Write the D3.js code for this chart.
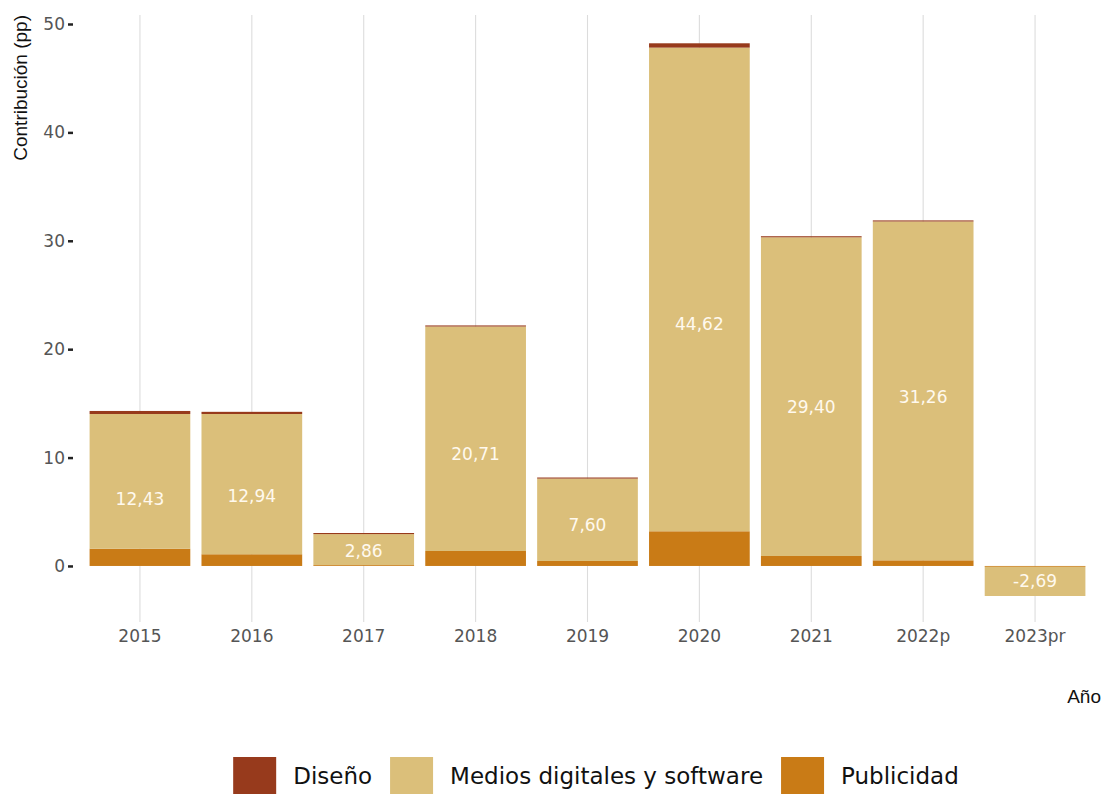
<!DOCTYPE html>
<html>
<head>
<meta charset="utf-8">
<script src="https://cdn.jsdelivr.net/npm/d3@7"></script>
<style>
  body { margin: 0; background: #fff; }
  svg { display: block; }
</style>
</head>
<body>
<svg id="chart"></svg>
<script>
// data
var years = ["2015", "2016", "2017", "2018", "2019", "2020", "2021", "2022p", "2023pr"];
var publicidad = [1.59, 1.08, 0.08, 1.38, 0.46, 3.2, 0.92, 0.52, -0.08];
var medios = [12.43, 12.94, 2.86, 20.71, 7.60, 44.62, 29.40, 31.26, -2.69];
var diseno = [0.28, 0.2, 0.1, 0.1, 0.1, 0.4, 0.1, 0.1, 0];
var yTicks = [0, 10, 20, 30, 40, 50];

var seriesKeys = ["Publicidad", "Medios digitales y software", "Diseño"];
var legendKeys = ["Diseño", "Medios digitales y software", "Publicidad"];
var colors = {
    "Diseño": "#973a1c",
    "Medios digitales y software": "#dbbf7a",
    "Publicidad": "#c97b16"
};

var width = 1104;
var height = 794;
var tickFont = "'DejaVu Sans', sans-serif";
var narrowFont = "'Liberation Sans Narrow', 'Liberation Sans', sans-serif";

var rows = years.map(function(y, i) {
    return {
        year: y,
        "Publicidad": publicidad[i],
        "Medios digitales y software": medios[i],
        "Diseño": diseno[i]
    };
});

var stacked = d3.stack()
    .keys(seriesKeys)
    .offset(d3.stackOffsetDiverging)(rows);

var svg = d3.select("#chart").attr("width", width).attr("height", height);

var x = d3.scaleBand()
    .domain(years)
    .range([84, 1091])
    .paddingInner(0.1)
    .paddingOuter(0.05);

var y = d3.scaleLinear()
    .domain([-5.17, 50.83])
    .range([622, 15]);

// vertical grid
svg.append("g").selectAll("line")
    .data(years)
    .enter().append("line")
    .attr("x1", function(d) { return x(d) + x.bandwidth() / 2; })
    .attr("x2", function(d) { return x(d) + x.bandwidth() / 2; })
    .attr("y1", y.range()[0])
    .attr("y2", y.range()[1])
    .attr("stroke", "#dcdcdc")
    .attr("stroke-width", 1.1);

// bars
svg.append("g").selectAll("g")
    .data(stacked)
    .enter().append("g")
    .attr("fill", function(d) { return colors[d.key]; })
    .selectAll("rect")
    .data(function(d) { return d; })
    .enter().append("rect")
    .attr("x", function(d) { return x(d.data.year); })
    .attr("width", x.bandwidth())
    .attr("y", function(d) { return y(Math.max(d[0], d[1])); })
    .attr("height", function(d) { return Math.abs(y(d[0]) - y(d[1])); });

// labels of the medios segment
var fmt = d3.format(".2f");
svg.append("g").selectAll("text")
    .data(rows)
    .enter().append("text")
    .attr("x", function(d) { return x(d.year) + x.bandwidth() / 2; })
    .attr("y", function(d) { return y(d["Medios digitales y software"] / 2); })
    .attr("dy", "0.36em")
    .attr("text-anchor", "middle")
    .attr("fill", "#fff9ee")
    .style("font-family", tickFont)
    .style("font-size", "17px")
    .text(function(d) {
        return fmt(d["Medios digitales y software"]).replace("\u2212", "-").replace(".", ",");
    });

// y axis
var yAxis = svg.append("g")
    .attr("transform", "translate(73,0)")
    .call(d3.axisLeft(y).tickValues(yTicks).tickSize(5).tickPadding(3));
yAxis.select(".domain").remove();
yAxis.selectAll(".tick line").attr("stroke", "#222").attr("stroke-width", 2.5);
yAxis.selectAll(".tick text")
    .attr("fill", "#555")
    .style("font-family", tickFont)
    .style("font-size", "17px");

// x axis
var xAxis = svg.append("g")
    .attr("transform", "translate(0," + 622 + ")")
    .call(d3.axisBottom(x).tickSize(0).tickPadding(8));
xAxis.select(".domain").remove();
xAxis.selectAll(".tick text")
    .attr("fill", "#555")
    .style("font-family", tickFont)
    .style("font-size", "17px");

// axis titles
svg.append("text")
    .attr("transform", "translate(27,15) rotate(-90)")
    .attr("text-anchor", "end")
    .style("font-family", narrowFont)
    .style("font-size", "19px")
    .attr("fill", "#111")
    .text("Contribución (pp)");

svg.append("text")
    .attr("x", 1101)
    .attr("y", 703)
    .attr("text-anchor", "end")
    .style("font-family", narrowFont)
    .style("font-size", "19px")
    .attr("fill", "#111")
    .text("Año");

// legend
var legend = svg.append("g");
var keyW = 43, keyH = 37, textGap = 17, itemGap = 18;
var items = legend.selectAll("g")
    .data(legendKeys)
    .enter().append("g");
items.append("rect")
    .attr("width", keyW)
    .attr("height", keyH)
    .attr("fill", function(d) { return colors[d]; });
items.append("text")
    .attr("x", keyW + textGap)
    .attr("y", 27)
    .style("font-family", tickFont)
    .style("font-size", "23px")
    .attr("fill", "#111")
    .text(function(d) { return d; });

var cursor = 0;
items.each(function() {
    var g = d3.select(this);
    g.attr("transform", "translate(" + cursor + ",0)");
    cursor += keyW + textGap + g.select("text").node().getComputedTextLength() + itemGap;
});
var legendWidth = cursor - itemGap;
legend.attr("transform", "translate(" + (596 - legendWidth / 2) + ",757)");
</script>
</body>
</html>
